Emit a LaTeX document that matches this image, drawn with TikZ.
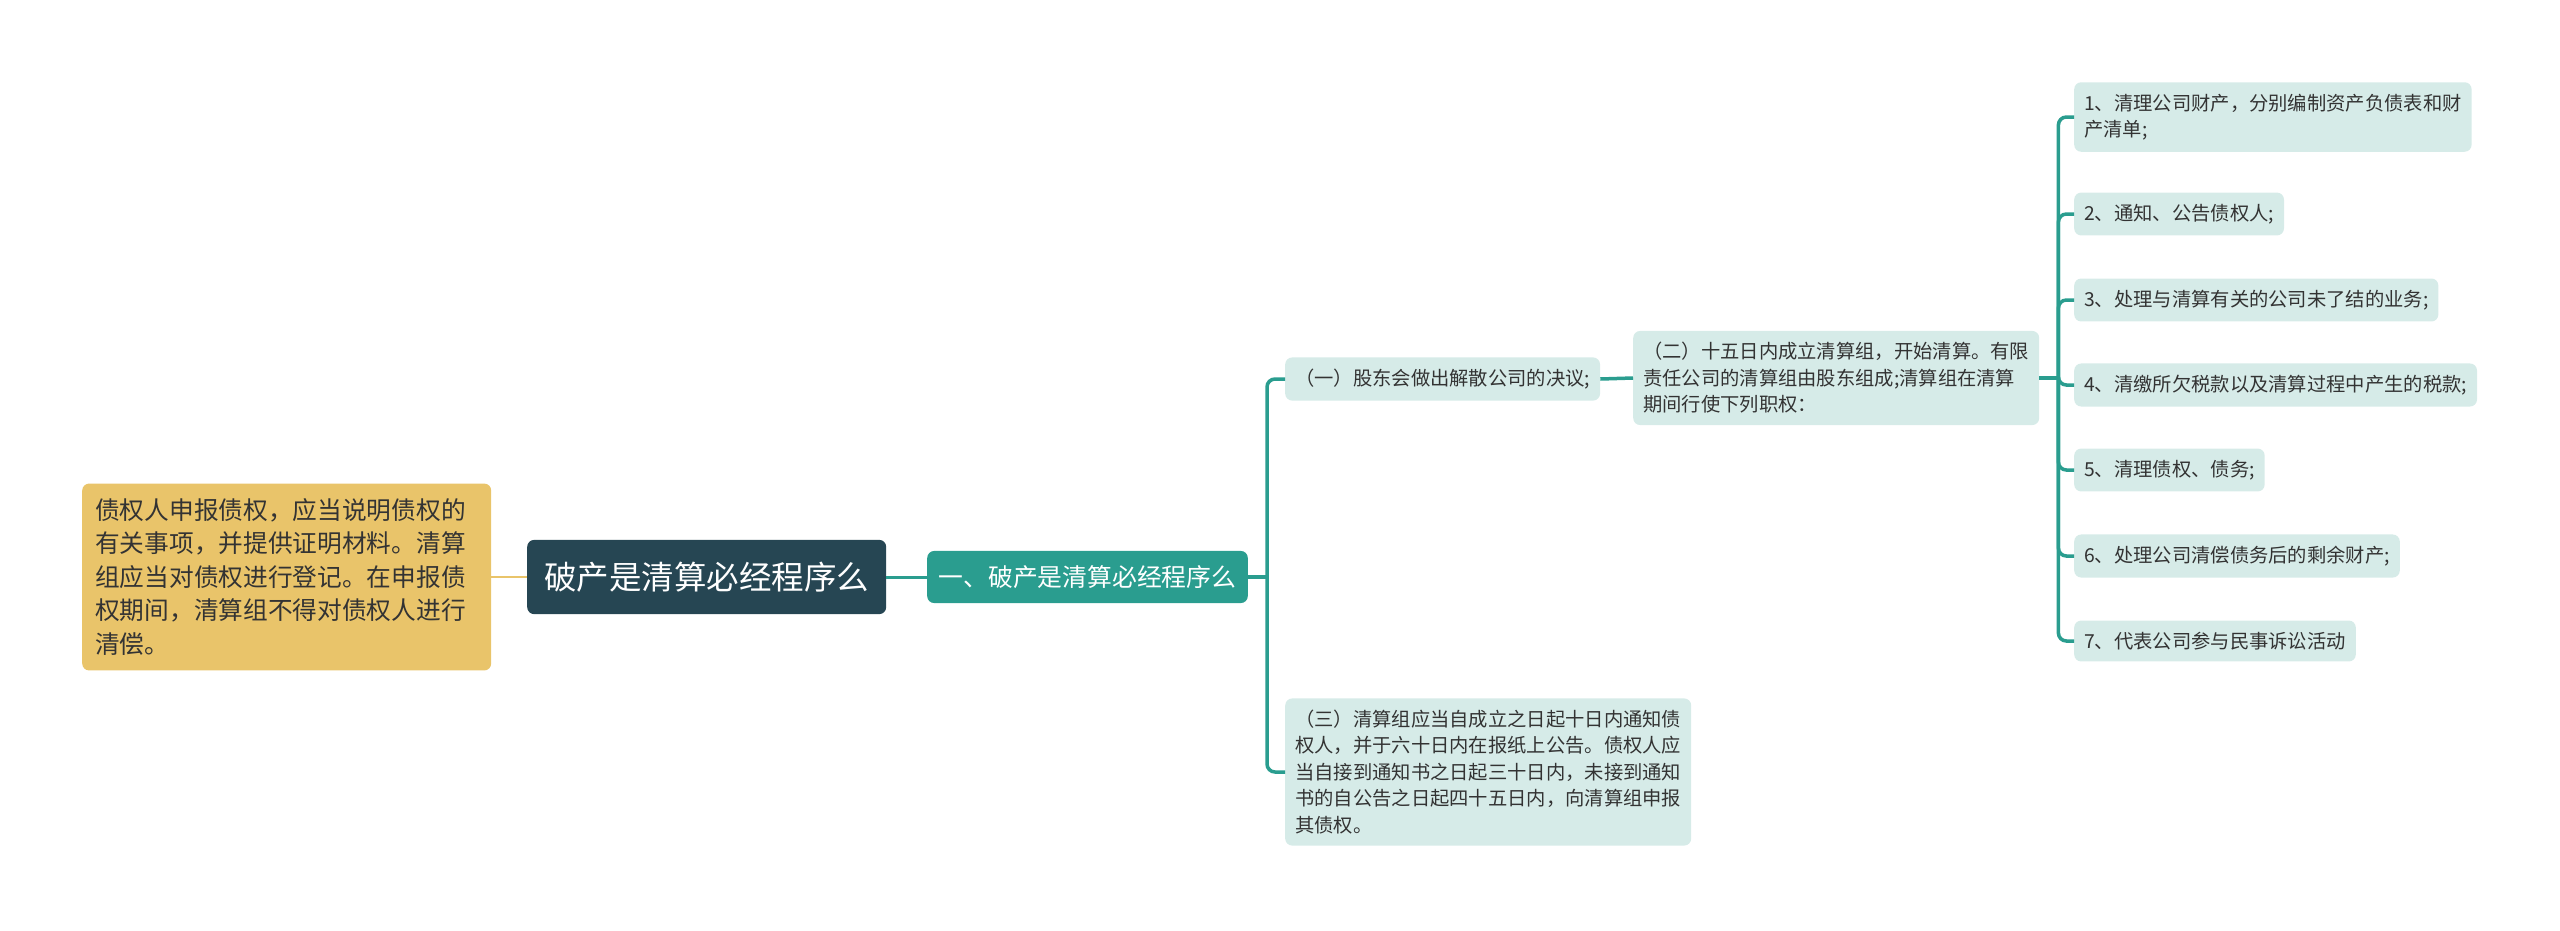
\documentclass[tikz,border=0pt]{standalone}
\usepackage{fontspec}
\setmainfont{Noto Sans CJK SC}
\usetikzlibrary{positioning}
\definecolor{rootblue}{HTML}{264653}
\definecolor{tealbox}{HTML}{2A9D8F}
\definecolor{lightbox}{HTML}{D6EBE8}
\definecolor{memoyellow}{HTML}{E9C46A}
\definecolor{textdark}{HTML}{333333}

\begin{document}
\begin{tikzpicture}[x=1pt, y=-1pt,
    rootbox/.style={fill=rootblue, rounded corners=7pt, text=white, font=\fontsize{32.5}{40}\selectfont, inner xsep=17pt, inner ysep=22pt, anchor=west},
    topic/.style={fill=tealbox, rounded corners=7pt, text=white, font=\fontsize{24.8}{30}\selectfont, inner xsep=11.5pt, inner ysep=14.5pt, anchor=west},
    memo/.style={fill=memoyellow, rounded corners=7pt, text=textdark, font=\fontsize{24.7}{33.5}\selectfont, align=left, text width=383pt, inner xsep=13pt, inner ysep=15pt, anchor=west},
    leaf/.style={fill=lightbox, rounded corners=7pt, text=textdark, font=\fontsize{19.3}{26.5}\selectfont, align=left, inner xsep=10pt, inner ysep=11.5pt, anchor=west},
    link/.style={draw=tealbox, line width=3.5pt},
    memolink/.style={draw=memoyellow, line width=2.5pt},
]
\useasboundingbox (0,0) rectangle (2560,930);

% Centre and note
\node[memo] (memo) at (82,577) {债权人申报债权，应当说明债权的\\有关事项，并提供证明材料。清算\\组应当对债权进行登记。在申报债\\权期间，清算组不得对债权人进行\\清偿。};
\node[rootbox] (root) at (527,577) {破产是清算必经程序么};
\node[topic] (lvl) at (927,577) {一、破产是清算必经程序么};

% Steps
\node[leaf] (s1) at (1285,379) {（一）股东会做出解散公司的决议;};
\node[leaf] (s2) at (1633,378) {（二）十五日内成立清算组，开始清算。有限\\责任公司的清算组由股东组成;清算组在清算\\期间行使下列职权：};
\node[leaf] (s3) at (1285,772) {（三）清算组应当自成立之日起十日内通知债\\权人，并于六十日内在报纸上公告。债权人应\\当自接到通知书之日起三十日内，未接到通知\\书的自公告之日起四十五日内，向清算组申报\\其债权。};

% Powers of the liquidation group
\node[leaf] (i1) at (2074,117) {1、清理公司财产，分别编制资产负债表和财\\产清单;};
\node[leaf] (i2) at (2074,214) {2、通知、公告债权人;};
\node[leaf] (i3) at (2074,300) {3、处理与清算有关的公司未了结的业务;};
\node[leaf] (i4) at (2074,385) {4、清缴所欠税款以及清算过程中产生的税款;};
\node[leaf] (i5) at (2074,470) {5、清理债权、债务;};
\node[leaf] (i6) at (2074,556) {6、处理公司清偿债务后的剩余财产;};
\node[leaf] (i7) at (2074,641) {7、代表公司参与民事诉讼活动};

% Links
\draw[memolink] (memo.east) -- (root.west);
\draw[link, line width=3pt] (root.east) -- (lvl.west);
\draw[link] (lvl.east) -- ++(19,0) coordinate (j1);
\draw[link, rounded corners=8pt] (j1) |- (s1.west);
\draw[link, rounded corners=8pt] (j1) |- (s3.west);
\draw[link] (s1.east) -- (s2.west);
\draw[link] (s2.east) -- ++(19,0) coordinate (j2);
\draw[link, rounded corners=8pt] (j2) |- (i1.west);
\draw[link, rounded corners=8pt] (j2) |- (i2.west);
\draw[link, rounded corners=8pt] (j2) |- (i3.west);
\draw[link, rounded corners=8pt] (j2) |- (i4.west);
\draw[link, rounded corners=8pt] (j2) |- (i5.west);
\draw[link, rounded corners=8pt] (j2) |- (i6.west);
\draw[link, rounded corners=8pt] (j2) |- (i7.west);
\end{tikzpicture}
\end{document}
